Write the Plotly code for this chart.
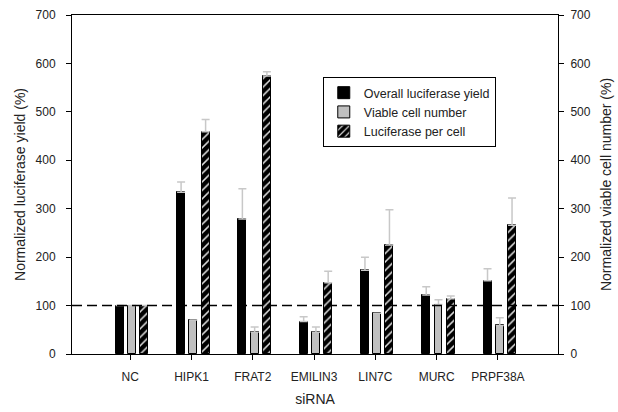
import plotly.graph_objects as go

categories = ["NC", "HIPK1", "FRAT2", "EMILIN3", "LIN7C", "MURC", "PRPF38A"]
overall = [100, 334, 279, 67, 173, 122, 151]
overall_err = [0, 21, 62, 10, 27, 17, 25]
viable = [100, 70, 45, 45, 84, 102, 59]
viable_err = [0, 0, 11, 11, 0, 10, 16]
per_cell = [100, 459, 574, 147, 225, 114, 266]
per_cell_err = [0, 25, 9, 24, 73, 6, 56]
baseline = 100
y_ticks = [0, 100, 200, 300, 400, 500, 600, 700]

xpos = list(range(len(categories)))
W = 0.13
font_family = "Liberation Sans, Arial, sans-serif"
txt = "#222222"
err_style = dict(type="data", symmetric=False, color="#c8c8c8", thickness=1.5, width=4)

fig = go.Figure()
fig.add_trace(go.Bar(
    x=xpos, y=overall, name="Overall luciferase yield", width=W, offset=-0.17 - W / 2,
    marker=dict(color="black", line=dict(color="black", width=1)),
    error_y=dict(array=overall_err, arrayminus=[0] * 7, **err_style)))
fig.add_trace(go.Bar(
    x=xpos, y=viable, name="Viable cell number", width=W, offset=0.03 - W / 2,
    marker=dict(color="#c0c0c0", line=dict(color="black", width=1)),
    error_y=dict(array=viable_err, arrayminus=[0] * 7, **err_style)))
fig.add_trace(go.Bar(
    x=xpos, y=per_cell, name="Luciferase per cell", width=W, offset=0.23 - W / 2,
    marker=dict(color="black", line=dict(color="black", width=1),
                pattern=dict(shape="/", bgcolor="black", fgcolor="#e0e0e0",
                             size=6, solidity=0.25, fillmode="replace")),
    error_y=dict(array=per_cell_err, arrayminus=[0] * 7, **err_style)))
# invisible trace to activate right axis
fig.add_trace(go.Scatter(x=[0], y=[0], yaxis="y2", mode="markers",
                         marker=dict(opacity=0), showlegend=False, hoverinfo="skip"))

fig.add_shape(type="line", xref="paper", x0=0, x1=1, yref="y", y0=baseline, y1=baseline,
              line=dict(color="black", width=1.5, dash="10px,5px"), layer="above")

axis_common = dict(showline=True, linecolor="black", linewidth=1, showgrid=False,
                   zeroline=False, ticks="outside", ticklen=5, tickcolor="black",
                   automargin=False,
                   tickfont=dict(size=12, color=txt, family=font_family))

fig.update_layout(
    width=618, height=412,
    margin=dict(l=72, r=60, t=15, b=58),
    paper_bgcolor="white", plot_bgcolor="white",
    font=dict(family=font_family, color=txt),
    bargap=0,
    xaxis=dict(tickmode="array", tickvals=xpos, ticktext=categories, range=[-0.95, 6.98],
               mirror=True, ticklabelstandoff=7,
               title=dict(text="siRNA", font=dict(size=14, color=txt), standoff=10),
               **axis_common),
    yaxis=dict(range=[0, 700], tickvals=y_ticks, ticklabelstandoff=8,
               title=dict(text="Normalized luciferase yield (%)", font=dict(size=14, color=txt),
                          standoff=6),
               **axis_common),
    yaxis2=dict(range=[0, 700], tickvals=y_ticks, overlaying="y", side="right",
                ticklabelstandoff=4,
                title=dict(text="Normalized viable cell number (%)", font=dict(size=14, color=txt),
                           standoff=11),
                **axis_common),
    legend=dict(x=0.516, y=0.817, xanchor="left", yanchor="top",
                bordercolor="black", borderwidth=1, bgcolor="white",
                font=dict(size=12.5, color=txt, family=font_family),
                tracegroupgap=0, itemwidth=30),
    showlegend=True,
)

fig.write_html("out.html", config={"displayModeBar": False},
               post_script="document.body.style.margin='0';")
